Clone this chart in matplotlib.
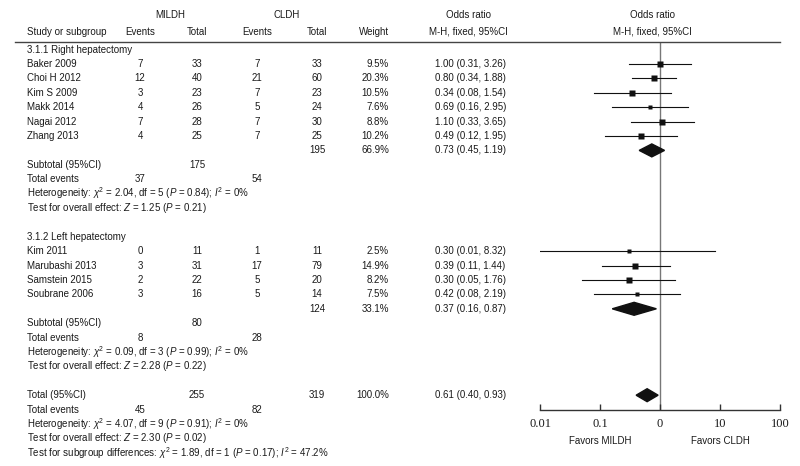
import numpy as np
import matplotlib
matplotlib.use("Agg")
import matplotlib.pyplot as plt
from matplotlib.patches import Polygon

# --- data ---
right_names = ["Baker 2009", "Choi H 2012", "Kim S 2009", "Makk 2014", "Nagai 2012", "Zhang 2013"]
right_ev_mi = [7, 12, 3, 4, 7, 4]
right_tot_mi = [33, 40, 23, 26, 28, 25]
right_ev_cl = [7, 21, 7, 5, 7, 7]
right_tot_cl = [33, 60, 23, 24, 30, 25]
right_weight = [9.5, 20.3, 10.5, 7.6, 8.8, 10.2]
right_or = [1.00, 0.80, 0.34, 0.69, 1.10, 0.49]
right_lo = [0.31, 0.34, 0.08, 0.16, 0.33, 0.12]
right_hi = [3.26, 1.88, 1.54, 2.95, 3.65, 1.95]

left_names = ["Kim 2011", "Marubashi 2013", "Samstein 2015", "Soubrane 2006"]
left_ev_mi = [0, 3, 2, 3]
left_tot_mi = [11, 31, 22, 16]
left_ev_cl = [1, 17, 5, 5]
left_tot_cl = [11, 79, 20, 14]
left_weight = [2.5, 14.9, 8.2, 7.5]
left_or = [0.30, 0.39, 0.30, 0.42]
left_lo = [0.01, 0.11, 0.05, 0.08]
left_hi = [8.32, 1.44, 1.76, 2.19]

# pooled: [events MILDH, total MILDH, events CLDH, total CLDH, weight, OR, lo, hi]
sub_right = [37, 175, 54, 195, 66.9, 0.73, 0.45, 1.19]
sub_left = [8, 80, 28, 124, 33.1, 0.37, 0.16, 0.87]
overall = [45, 255, 82, 319, 100.0, 0.61, 0.40, 0.93]
# heterogeneity: chi2, df, P, I2 ; overall effect: Z, P
het_right = [2.04, 5, 0.84, 0]
het_left = [0.09, 3, 0.99, 0]
het_total = [4.07, 9, 0.91, 0]
z_right = [1.25, 0.21]
z_left = [2.28, 0.22]
z_total = [2.30, 0.02]
subgroup_diff = [1.89, 1, 0.17, 47.2]

tick_vals = [0.01, 0.1, 1, 10, 100]
tick_labels = ["0.01", "0.1", "0", "10", "100"]

W, H = 800, 466
plt.rcParams['mathtext.fontset'] = 'custom'
plt.rcParams['mathtext.rm'] = 'Liberation Sans'
plt.rcParams['mathtext.it'] = 'Liberation Sans:italic'
plt.rcParams['mathtext.bf'] = 'Liberation Sans:bold'
fig = plt.figure(figsize=(W / 100, H / 100), dpi=100)
FONT = "Liberation Sans"
FS = 7
TC = "#1a1a1a"

ROW0, STEP = 64, 14.4


def ypx(i):
    return ROW0 + STEP * i


def txt(x, y, s, ha="left", **kw):
    fig.text(x / W, 1 - y / H, s, ha=ha, va="center", fontsize=FS,
             family=FONT, color=TC, **kw)


# columns (pixels)
C_STUDY, C_EMI, C_TMI, C_ECL, C_TCL, C_W, C_OR = 27, 140, 197, 257, 317, 389, 435

# headers
txt(170, 15, "MILDH", ha="center")
txt(287, 15, "CLDH", ha="center")
txt(468, 15, "Odds ratio", ha="center")
txt(652, 15, "Odds ratio", ha="center")
txt(C_STUDY, 32, "Study or subgroup")
txt(C_EMI, 32, "Events", ha="center")
txt(C_TMI, 32, "Total", ha="center")
txt(C_ECL, 32, "Events", ha="center")
txt(C_TCL, 32, "Total", ha="center")
txt(C_W, 32, "Weight", ha="right")
txt(468, 32, "M-H, fixed, 95%CI", ha="center")
txt(652, 32, "M-H, fixed, 95%CI", ha="center")
fig.add_artist(plt.Line2D([15 / W, 780 / W], [1 - 42 / H] * 2, color="#444", lw=1))

# forest axes: x 540..780 px, y 42..410 px
top, bot = 42, 410
ax = fig.add_axes([540 / W, 1 - bot / H, 240 / W, (bot - top) / H])
ax.set_xscale("log")
ax.set_xlim(0.01, 100)
ax.set_ylim((bot - ROW0) / STEP, (top - ROW0) / STEP)
ax.patch.set_alpha(0)
for s in ["top", "left", "right"]:
    ax.spines[s].set_visible(False)
ax.spines["bottom"].set_color("#333")
ax.spines["bottom"].set_linewidth(1)
ax.set_yticks([])
ax.set_xticks(tick_vals)
ax.set_xticklabels(tick_labels, family="Liberation Serif", fontsize=9, color=TC)
ax.minorticks_off()
ax.tick_params(axis="x", direction="in", length=4, width=1, color="#333", pad=6)
ax.axvline(1, color="#777", lw=1, zorder=1)
fav_y = -31 / (bot - top)
ax.text(0.1, fav_y, "Favors MILDH", transform=ax.get_xaxis_transform(), ha="center",
        va="center", fontsize=FS, family=FONT, color=TC)
ax.text(10, fav_y, "Favors CLDH", transform=ax.get_xaxis_transform(), ha="center",
        va="center", fontsize=FS, family=FONT, color=TC)


def study_rows(start, names, ev_mi, tot_mi, ev_cl, tot_cl, wts, ors, los, his):
    for k, name in enumerate(names):
        r = start + k
        y = ypx(r)
        txt(C_STUDY, y, name)
        txt(C_EMI, y, str(ev_mi[k]), ha="center")
        txt(C_TMI, y, str(tot_mi[k]), ha="center")
        txt(C_ECL, y, str(ev_cl[k]), ha="center")
        txt(C_TCL, y, str(tot_cl[k]), ha="center")
        txt(C_W, y, f"{wts[k]:.1f}%", ha="right")
        txt(C_OR, y, f"{ors[k]:.2f} ({los[k]:.2f}, {his[k]:.2f})")
        ax.plot([los[k], his[k]], [r, r], color="#111", lw=0.8, zorder=2)
        ax.plot(ors[k], r, marker="s", color="#111", ms=1.6 + 0.7 * np.sqrt(wts[k]),
                mec="none", zorder=3)


def pooled_row(r, vals):
    ev_mi, tot_mi, ev_cl, tot_cl, w, orv, lo, hi = vals
    y = ypx(r)
    txt(C_TCL, y, str(tot_cl), ha="center")
    txt(C_W, y, f"{w:.1f}%", ha="right")
    txt(C_OR, y, f"{orv:.2f} ({lo:.2f}, {hi:.2f})")
    h = 0.45
    ax.add_patch(Polygon([[lo, r], [orv, r - h], [hi, r], [orv, r + h]],
                         closed=True, color="#111", zorder=3))


def het_text(vals):
    c, df, p, i2 = vals
    return (rf"Heterogeneity: $\chi^2$ = {c:.2f}, df = {df} ($P$ = {p:.2f}); "
            rf"$I^2$ = {i2:g}%")


def z_text(vals):
    z, p = vals
    return rf"Test for overall effect: $Z$ = {z:.2f} ($P$ = {p:.2f})"


# subgroup 3.1.1
txt(C_STUDY, ypx(-1), "3.1.1 Right hepatectomy")
study_rows(0, right_names, right_ev_mi, right_tot_mi, right_ev_cl, right_tot_cl,
           right_weight, right_or, right_lo, right_hi)
pooled_row(6, sub_right)
txt(C_STUDY, ypx(7), "Subtotal (95%CI)")
txt(C_TMI, ypx(7), str(sub_right[1]), ha="center")
txt(C_STUDY, ypx(8), "Total events")
txt(C_EMI, ypx(8), str(sub_right[0]), ha="center")
txt(C_ECL, ypx(8), str(sub_right[2]), ha="center")
txt(C_STUDY, ypx(9), het_text(het_right))
txt(C_STUDY, ypx(10), z_text(z_right))

# subgroup 3.1.2
txt(C_STUDY, ypx(12), "3.1.2 Left hepatectomy")
study_rows(13, left_names, left_ev_mi, left_tot_mi, left_ev_cl, left_tot_cl,
           left_weight, left_or, left_lo, left_hi)
pooled_row(17, sub_left)
txt(C_STUDY, ypx(18), "Subtotal (95%CI)")
txt(C_TMI, ypx(18), str(sub_left[1]), ha="center")
txt(C_STUDY, ypx(19), "Total events")
txt(C_EMI, ypx(19), str(sub_left[0]), ha="center")
txt(C_ECL, ypx(19), str(sub_left[2]), ha="center")
txt(C_STUDY, ypx(20), het_text(het_left))
txt(C_STUDY, ypx(21), z_text(z_left))

# overall
pooled_row(23, overall)
txt(C_STUDY, ypx(23), "Total (95%CI)")
txt(C_TMI, ypx(23), str(overall[1]), ha="center")
txt(C_STUDY, ypx(24), "Total events")
txt(C_EMI, ypx(24), str(overall[0]), ha="center")
txt(C_ECL, ypx(24), str(overall[2]), ha="center")
txt(C_STUDY, ypx(25), het_text(het_total))
txt(C_STUDY, ypx(26), z_text(z_total))
c, df, p, i2 = subgroup_diff
txt(C_STUDY, ypx(27), rf"Test for subgroup differences: $\chi^2$ = {c:.2f}, df = {df} "
                      rf"($P$ = {p:.2f}); $I^2$ = {i2:.1f}%")

fig.savefig("out.png", dpi=100, facecolor="white")
